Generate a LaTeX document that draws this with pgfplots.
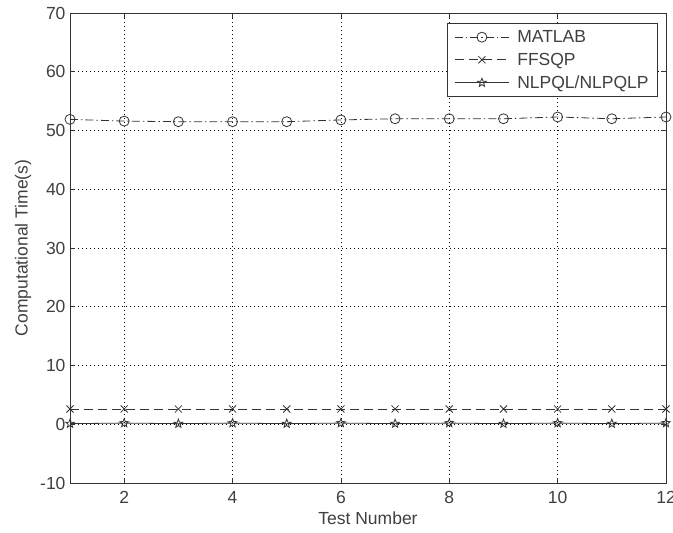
\documentclass[border=0pt]{standalone}
\usepackage{fontspec}
\setmainfont{Liberation Sans}
\usepackage{pgfplots}
\pgfplotsset{compat=1.18}

% outlined five-pointed star marker
\pgfdeclareplotmark{pentagram}{%
  \pgfpathmoveto{\pgfqpointpolar{90}{\pgfplotmarksize}}%
  \pgfpathlineto{\pgfqpointpolar{126}{0.42\pgfplotmarksize}}%
  \pgfpathlineto{\pgfqpointpolar{162}{\pgfplotmarksize}}%
  \pgfpathlineto{\pgfqpointpolar{198}{0.42\pgfplotmarksize}}%
  \pgfpathlineto{\pgfqpointpolar{234}{\pgfplotmarksize}}%
  \pgfpathlineto{\pgfqpointpolar{270}{0.42\pgfplotmarksize}}%
  \pgfpathlineto{\pgfqpointpolar{306}{\pgfplotmarksize}}%
  \pgfpathlineto{\pgfqpointpolar{342}{0.42\pgfplotmarksize}}%
  \pgfpathlineto{\pgfqpointpolar{18}{\pgfplotmarksize}}%
  \pgfpathlineto{\pgfqpointpolar{54}{0.42\pgfplotmarksize}}%
  \pgfpathclose\pgfusepathqstroke}

\newcommand\lblfont{\fontsize{17.5bp}{21bp}\selectfont}

\begin{document}
\begin{tikzpicture}
\useasboundingbox (0,0) rectangle (673bp,533bp);
\begin{axis}[
  at={(70bp,50bp)}, anchor=south west,
  width=596bp, height=470bp, scale only axis,
  xmin=1, xmax=12, ymin=-10, ymax=70,
  xtick={2,4,...,12}, ytick={-10,0,...,70},
  tick align=inside, major tick length=5bp,
  axis line style={black!80, line width=0.8bp},
  tick style={black!80, line width=0.8bp},
  grid=major,
  major grid style={black, line width=0.6bp, dash pattern=on 1bp off 3bp},
  clip=false,
  /pgf/number format/assume math mode=true,
  tick label style={font=\lblfont, text=black!75},
  xticklabel style={yshift=-5bp},
  yticklabel style={xshift=-1bp},
  xlabel={Test Number}, ylabel={Computational Time(s)},
  label style={font=\lblfont, text=black!75},
  xlabel style={yshift=-1bp},
  ylabel style={yshift=2bp},
  legend style={at={(0.9866,0.9787)}, anchor=north east, font=\lblfont,
    draw=black!80, line width=0.8bp, inner xsep=7bp, inner ysep=5bp,
    row sep=5bp, text=black!75,
    /tikz/every odd column/.append style={column sep=6bp}},
  legend cell align=left,
  legend image code/.code={%
    \draw[mark repeat=2, mark phase=2]
      plot coordinates {(0bp,0bp) (27bp,0bp) (54bp,0bp)};},
]
\addplot[black!80, line width=0.8bp,
  dash pattern=on 8bp off 3bp on 1.5bp off 3bp,
  mark=o, mark size=5bp, mark options={solid}]
  coordinates {(1,51.9) (2,51.6) (3,51.5) (4,51.5) (5,51.5) (6,51.8)
               (7,52.0) (8,52.0) (9,52.0) (10,52.3) (11,52.0) (12,52.3)};
\addlegendentry{MATLAB}
\addplot[black!80, line width=0.8bp, dash pattern=on 9bp off 5bp,
  mark=x, mark size=5bp, mark options={solid}]
  coordinates {(1,2.6) (2,2.6) (3,2.6) (4,2.6) (5,2.6) (6,2.6)
               (7,2.6) (8,2.6) (9,2.6) (10,2.6) (11,2.6) (12,2.6)};
\addlegendentry{FFSQP}
\addplot[black!80, line width=0.8bp,
  mark=pentagram, mark size=4.5bp, mark options={solid}]
  coordinates {(1,0.1) (2,0.2) (3,0.1) (4,0.2) (5,0.1) (6,0.2)
               (7,0.1) (8,0.2) (9,0.1) (10,0.2) (11,0.1) (12,0.2)};
\addlegendentry{NLPQL/NLPQLP}
\end{axis}
\end{tikzpicture}
\end{document}
